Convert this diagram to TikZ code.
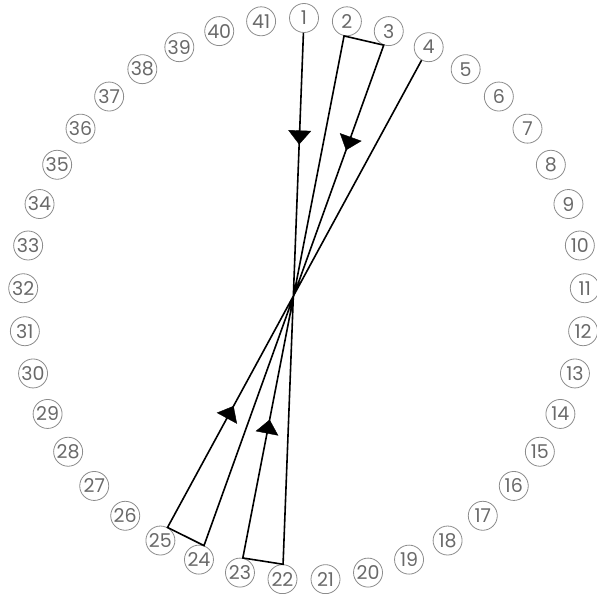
\documentclass[tikz,border=0pt]{standalone}
\usepackage{fontspec}
\setmainfont{Poppins}
\usetikzlibrary{arrows.meta, calc, decorations.markings}
\definecolor{ringgray}{RGB}{140, 140, 140}
\definecolor{digitgray}{RGB}{105, 105, 105}
\tikzstyle{num} = [circle, draw=ringgray, line width=0.8pt, minimum size=29pt, inner sep=0pt, text=digitgray, font=\fontsize{19}{19}\selectfont]
\tikzstyle{link} = [line width=1.6pt, black, line join=miter]
\tikzset{arrowat/.style={postaction={decorate}, decoration={markings, mark=at position #1 with {\arrow{Triangle[width=23pt, length=14pt]}}}}}

\begin{document}
\begin{tikzpicture}[x=1pt, y=1pt]
    \useasboundingbox (0, 0) rectangle (597, -594);
    \coordinate (c) at (304, -299);

    % Ring of numbered points
    \foreach \k in {1, ..., 41} {
        \node[num] (n\k) at ($(c) + ({90 - (\k - 1) * 360 / 41}:281)$) {\k};
    }

    % Border points of the chords
    \path (n1) -- (n22) coordinate[pos=0] (b1) coordinate[pos=1] (b22);
    \path (n23) -- (n2) coordinate[pos=0] (b23) coordinate[pos=1] (b2);
    \path (n3) -- (n24) coordinate[pos=0] (b3) coordinate[pos=1] (b24);
    \path (n25) -- (n4) coordinate[pos=0] (b25) coordinate[pos=1] (b4);

    % Route
    \draw[link] (b1) -- (b22) -- (b23) -- (b2) -- (b3) -- (b24) -- (b25) -- (b4);

    % Direction marks
    \path[arrowat=0.21] (b1) -- (b22);
    \path[arrowat=0.265] (b23) -- (b2);
    \path[arrowat=0.21] (b3) -- (b24);
    \path[arrowat=0.26] (b25) -- (b4);
\end{tikzpicture}
\end{document}
